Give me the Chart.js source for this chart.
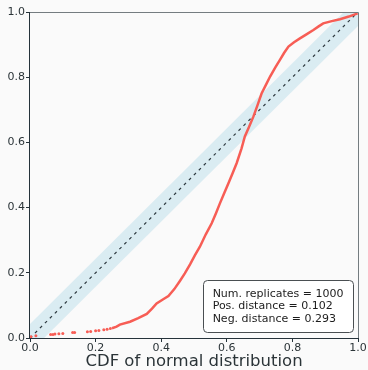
<!DOCTYPE html>
<html>
<head>
<meta charset="utf-8">
<script src="https://cdn.jsdelivr.net/npm/chart.js@4/dist/chart.umd.min.js"></script>
<style>
  html, body { margin: 0; padding: 0; background: #fafafa; }
  #wrap { width: 368px; height: 370px; }
</style>
</head>
<body>
<div id="wrap"><canvas id="ppChart" width="368" height="370"></canvas></div>
<script>
// empirical CDF vs normal CDF, sparse lower tail
const tailX = [0.003, 0.018, 0.063, 0.070, 0.076, 0.088, 0.100, 0.130, 0.136, 0.175, 0.185, 0.200, 0.210, 0.225, 0.235, 0.245];
const tailY = [0.004, 0.007, 0.011, 0.011, 0.012, 0.013, 0.014, 0.017, 0.017, 0.019, 0.020, 0.022, 0.023, 0.025, 0.027, 0.029];

// dense part of the curve
const curveX = [0.250, 0.264, 0.274, 0.305, 0.330, 0.356, 0.372, 0.386, 0.405, 0.422, 0.440, 0.457, 0.472, 0.488, 0.503,
  0.518, 0.536, 0.554, 0.567, 0.579, 0.592, 0.605, 0.618, 0.630, 0.645, 0.655, 0.668, 0.681, 0.694, 0.706, 0.720, 0.732,
  0.748, 0.762, 0.775, 0.788, 0.805, 0.823, 0.844, 0.864, 0.880, 0.894, 0.920, 0.945, 0.972, 0.999];
const curveY = [0.030, 0.035, 0.041, 0.050, 0.061, 0.074, 0.090, 0.106, 0.118, 0.129, 0.150, 0.175, 0.198, 0.226, 0.254,
  0.280, 0.318, 0.352, 0.383, 0.413, 0.444, 0.475, 0.506, 0.536, 0.582, 0.618, 0.648, 0.679, 0.715, 0.750, 0.778, 0.802,
  0.830, 0.853, 0.875, 0.894, 0.907, 0.919, 0.932, 0.945, 0.956, 0.965, 0.972, 0.978, 0.986, 0.996];

const bandHalfWidth = 0.043;
const tickValues = [0, 0.2, 0.4, 0.6, 0.8, 1.0];
const statLines = ['Num. replicates = 1000', 'Pos. distance = 0.102', 'Neg. distance = 0.293'];

const RED = '#f75d55';
const toPts = (xs, ys) => xs.map((x, i) => ({ x: x, y: ys[i] }));

// frame around the plot area
const spinesPlugin = {
  id: 'spines',
  afterDatasetsDraw(chart) {
    const { ctx, chartArea: a } = chart;
    ctx.save();
    ctx.lineWidth = 1;
    ctx.strokeStyle = '#747c80';
    ctx.beginPath();
    ctx.moveTo(a.left, a.top + 0.5);
    ctx.lineTo(a.right + 0.5, a.top + 0.5);
    ctx.lineTo(a.right + 0.5, a.bottom);
    ctx.stroke();
    ctx.strokeStyle = '#25323a';
    ctx.beginPath();
    ctx.moveTo(a.left - 0.5, a.top);
    ctx.lineTo(a.left - 0.5, a.bottom + 0.5);
    ctx.lineTo(a.right + 0.5, a.bottom + 0.5);
    ctx.stroke();
    ctx.restore();
  }
};

// stats box in the lower right corner
const statsBoxPlugin = {
  id: 'statsBox',
  afterDraw(chart) {
    const { ctx, chartArea: a } = chart;
    ctx.save();
    ctx.font = '11px "DejaVu Sans"';
    const w = Math.max(...statLines.map(s => ctx.measureText(s).width)) + 19;
    const lineH = 12.7;
    const h = lineH * statLines.length + 14;
    const x = a.right - 5 - w;
    const y = a.bottom - 6 - h;
    ctx.fillStyle = 'rgba(255,255,255,0.85)';
    ctx.strokeStyle = '#4a4f52';
    ctx.lineWidth = 1;
    ctx.beginPath();
    ctx.roundRect(Math.round(x) + 0.5, Math.round(y) + 0.5, Math.round(w), Math.round(h), 4);
    ctx.fill();
    ctx.stroke();
    ctx.fillStyle = '#1c1c1c';
    ctx.textBaseline = 'middle';
    statLines.forEach((s, i) => ctx.fillText(s, x + 9.5, y + 7.5 + lineH * (i + 0.5)));
    ctx.restore();
  }
};

const tickFont = { family: 'DejaVu Sans', size: 11 };

new Chart(document.getElementById('ppChart'), {
  type: 'scatter',
  data: {
    datasets: [
      {
        data: toPts(curveX, curveY),
        showLine: true,
        borderColor: RED,
        borderWidth: 2.5,
        pointRadius: 0,
        order: 0
      },
      {
        data: toPts(tailX, tailY),
        backgroundColor: RED,
        borderWidth: 0,
        pointRadius: 1.5,
        order: 0
      },
      {
        data: [{ x: 0, y: 0 }, { x: 1, y: 1 }],
        showLine: true,
        borderColor: '#2e3a40',
        borderWidth: 1.2,
        borderDash: [3, 4],
        pointRadius: 0,
        order: 1
      },
      {
        data: [{ x: 0, y: bandHalfWidth }, { x: 1, y: 1 + bandHalfWidth }],
        showLine: true,
        borderWidth: 0,
        pointRadius: 0,
        clip: 0,
        order: 2
      },
      {
        data: [{ x: 0, y: -bandHalfWidth }, { x: 1, y: 1 - bandHalfWidth }],
        showLine: true,
        borderWidth: 0,
        pointRadius: 0,
        backgroundColor: 'rgba(173, 216, 230, 0.42)',
        fill: '-1',
        clip: 0,
        order: 2
      }
    ]
  },
  options: {
    responsive: false,
    animation: false,
    events: [],
    layout: { padding: { top: 12, right: 10, left: 0, bottom: 0 } },
    plugins: { legend: { display: false }, tooltip: { enabled: false } },
    scales: {
      x: {
        type: 'linear',
        min: 0,
        max: 1,
        afterFit: s => { s.height = 32; },
        afterBuildTicks: s => { s.ticks = tickValues.map(v => ({ value: v })); },
        grid: { drawOnChartArea: false, tickLength: 4, tickColor: '#25323a' },
        border: { display: false },
        ticks: { font: tickFont, color: '#2b3438', padding: 0, maxRotation: 0, callback: v => v.toFixed(1) },
        title: {
          display: true,
          text: 'CDF of normal distribution',
          font: { family: 'DejaVu Sans', size: 16.5, lineHeight: 1.0 },
          color: '#2b3438',
          padding: { top: 0, bottom: 0 }
        }
      },
      y: {
        type: 'linear',
        min: 0,
        max: 1,
        afterFit: s => { s.width = 30; },
        afterBuildTicks: s => { s.ticks = tickValues.map(v => ({ value: v })); },
        grid: { drawOnChartArea: false, tickLength: 4, tickColor: '#25323a' },
        border: { display: false },
        ticks: { font: tickFont, color: '#2b3438', padding: 1, callback: v => v.toFixed(1) }
      }
    }
  },
  plugins: [spinesPlugin, statsBoxPlugin]
});
</script>
</body>
</html>
